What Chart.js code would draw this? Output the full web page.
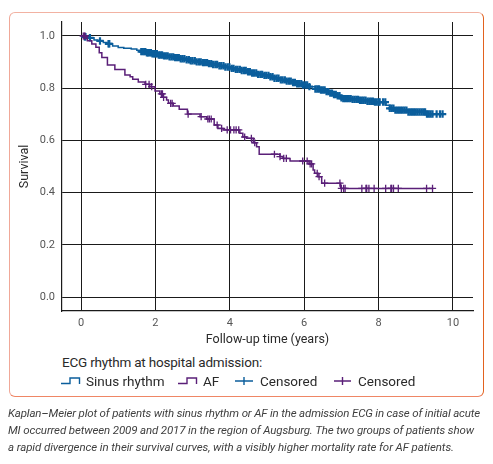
<!DOCTYPE html>
<html>
<head>
<meta charset="utf-8">
<script src="https://cdn.jsdelivr.net/npm/chart.js@4.4.1/dist/chart.umd.min.js"></script>
<style>
  html, body { margin:0; padding:0; background:#fff; }
  body { width:493px; height:464px; position:relative; overflow:hidden; font-family: Roboto, "Open Sans", sans-serif; }
  #box { position:absolute; left:9px; top:12px; width:475px; height:385px; box-sizing:border-box;
         border:1.5px solid; border-color:#f2b2a2 #e2621f #ef8665 #f0a898; border-radius:6px; }
  #wrap { position:absolute; left:0; top:0; width:493px; height:352px; }
  .lt { position:absolute; font-size:13.5px; color:#2a2a2a; white-space:nowrap; line-height:16px; }
  .cap { position:absolute; left:8px; font-size:11.5px; font-style:italic; color:#3f3f3f; white-space:nowrap; line-height:14px; }
  svg.sym { position:absolute; overflow:visible; }
</style>
</head>
<body>
<div id="box"></div>
<div id="wrap"><canvas id="c" width="493" height="352"></canvas></div>

<div class="lt" data-w="200" style="left:62px; top:354px;">ECG rhythm at hospital admission:</div>
<svg class="sym" style="left:0;top:0" width="493" height="464">
  <path d="M61,383.5 H70 V378 H79.5 V384" fill="none" stroke="#0b5e9c" stroke-width="1.4"/>
  <path d="M178,383.5 H187 V378 H196.5 V384" fill="none" stroke="#5a1f78" stroke-width="1.4"/>
  <path d="M235,381 H253 M244,377 V385" fill="none" stroke="#0b5e9c" stroke-width="1.4"/>
  <path d="M334,381 H351 M342.5,377 V385" fill="none" stroke="#5a1f78" stroke-width="1.4"/>
</svg>
<div class="lt" style="left:86px; top:373px;">Sinus rhythm</div>
<div class="lt" style="left:203px; top:373px;">AF</div>
<div class="lt" style="left:260px; top:373px;">Censored</div>
<div class="lt" style="left:358px; top:373px;">Censored</div>

<div class="cap" data-w="472" style="top:406px;">Kaplan–Meier plot of patients with sinus rhythm or AF in the admission ECG in case of initial acute</div>
<div class="cap" data-w="466" style="top:423px;">MI occurred between 2009 and 2017 in the region of Augsburg. The two groups of patients show</div>
<div class="cap" data-w="446" style="top:440px;">a rapid divergence in their survival curves, with a visibly higher mortality rate for AF patients.</div>

<script>
// ---- Data ----
const xTicks = [0, 2, 4, 6, 8, 10];
const yTicks = [0.0, 0.2, 0.4, 0.6, 0.8, 1.0];

const sinusTimes = [0,0.08,0.2,0.35,0.45,0.6,0.7,0.85,1.0,1.15,1.35,1.5,1.6,1.75,1.9,2.05,2.2,2.35,2.5,2.65,2.8,2.95,3.1,3.25,3.4,3.55,3.7,3.85,4.0,4.15,4.3,4.45,4.6,4.75,4.9,5.05,5.2,5.35,5.5,5.65,5.8,5.95,6.1,6.3,6.45,6.6,6.7,6.8,6.9,6.98,7.05,7.3,7.5,7.7,7.9,8.2,8.3,8.42,8.8,9.28,9.75];
const sinusSurv  = [1.0,0.997,0.993,0.985,0.981,0.975,0.97,0.962,0.956,0.953,0.95,0.945,0.94,0.936,0.932,0.927,0.924,0.92,0.917,0.913,0.909,0.905,0.901,0.898,0.894,0.891,0.886,0.881,0.876,0.872,0.868,0.863,0.858,0.853,0.849,0.844,0.838,0.832,0.827,0.822,0.817,0.812,0.806,0.797,0.793,0.787,0.781,0.776,0.771,0.763,0.76,0.757,0.754,0.75,0.747,0.735,0.723,0.716,0.709,0.701,0.701];

const afTimes = [0,0.15,0.17,0.29,0.4,0.49,0.56,0.71,0.91,1.18,1.32,1.39,1.54,1.72,1.85,1.99,2.12,2.2,2.3,2.35,2.48,2.64,2.86,3.2,3.38,3.58,3.68,3.82,4.27,4.35,4.45,4.63,4.72,4.79,5.35,5.43,5.62,6.13,6.24,6.28,6.37,6.47,6.98,9.47];
const afSurv  = [1.0,0.991,0.982,0.969,0.957,0.936,0.918,0.889,0.872,0.851,0.844,0.834,0.824,0.815,0.806,0.789,0.778,0.765,0.755,0.742,0.732,0.719,0.701,0.691,0.682,0.659,0.646,0.64,0.627,0.613,0.608,0.591,0.576,0.547,0.538,0.531,0.521,0.51,0.487,0.474,0.461,0.436,0.416,0.416];

const sinusCensorTimes = [0.1,0.12,0.24,0.51,0.74,0.76,
  1.62,1.66,1.7,1.73,1.77,1.8,1.84,1.88,1.92,1.96,2.0,2.04,2.09,2.13,2.18,2.23,2.28,2.33,2.38,2.43,2.48,2.53,2.58,2.63,2.68,2.73,2.78,2.84,2.9,2.95,
  3.0,3.06,3.11,3.17,3.22,3.28,3.33,3.39,3.44,3.5,3.55,3.61,3.66,3.72,3.77,3.83,3.88,3.94,3.99,4.05,4.1,4.16,4.21,4.27,4.32,4.38,4.43,4.49,4.54,4.6,4.65,4.71,4.76,4.82,4.87,4.93,4.98,
  5.04,5.09,5.15,5.2,5.26,5.31,5.37,5.42,5.48,5.53,5.59,5.64,5.7,5.75,5.81,5.86,5.92,5.97,6.03,6.08,6.14,6.3,6.35,6.4,6.45,6.5,6.55,6.6,6.65,6.7,6.75,6.8,6.85,6.9,6.95,
  7.0,7.05,7.1,7.15,7.2,7.25,7.3,7.35,7.4,7.45,7.5,7.55,7.6,7.65,7.7,7.75,7.8,7.85,7.9,7.95,8.0,8.03,8.12,8.18,8.3,8.35,8.4,8.45,8.5,8.55,8.6,8.65,8.7,8.75,8.8,8.85,8.9,8.95,
  9.0,9.05,9.1,9.15,9.2,9.25,9.3,9.35,9.4,9.45,9.56,9.65,9.72];

const afCensorTimes = [0.06,0.09,0.11,1.74,1.83,1.9,2.16,2.19,2.22,2.41,2.45,2.88,3.23,3.41,3.45,3.5,3.66,3.78,3.93,4.02,4.11,4.17,4.24,4.4,4.58,4.67,
  5.2,5.35,5.45,5.52,5.96,6.08,6.16,6.2,6.35,6.4,6.55,6.96,7.0,7.06,7.1,7.55,7.66,7.68,7.74,7.88,8.19,8.33,8.35,8.4,8.53,9.29,9.45];

const BLUE = '#0b5e9c';
const PURPLE = '#5a1f78';

// survival value of a step curve at time t (last step at or before t)
function stepAt(times, surv, t) {
  let v = surv[0];
  for (let i = 0; i < times.length; i++) { if (times[i] <= t) v = surv[i]; else break; }
  return v;
}
const toPts = (ts, ss) => ts.map((t, i) => ({x: t, y: ss[i]}));
const censorPts = (cts, ts, ss) => cts.map(t => ({x: t, y: stepAt(ts, ss, t)}));

const tickFont = {family: 'Roboto, sans-serif', size: 11};

new Chart(document.getElementById('c'), {
  type: 'scatter',
  data: {
    datasets: [
      { label: 'Sinus rhythm', type: 'line', data: toPts(sinusTimes, sinusSurv), stepped: true,
        borderColor: BLUE, borderWidth: 1.5, pointRadius: 0, fill: false, order: 4 },
      { label: 'Censored', data: censorPts(sinusCensorTimes, sinusTimes, sinusSurv),
        pointStyle: 'cross', pointRadius: 3.7, borderColor: BLUE, backgroundColor: BLUE, pointBorderWidth: 2.2, order: 3 },
      { label: 'AF', type: 'line', data: toPts(afTimes, afSurv), stepped: true,
        borderColor: PURPLE, borderWidth: 1.5, pointRadius: 0, fill: false, order: 2 },
      { label: 'Censored', data: censorPts(afCensorTimes, afTimes, afSurv),
        pointStyle: 'cross', pointRadius: 3.6, borderColor: PURPLE, backgroundColor: PURPLE, pointBorderWidth: 1.3, order: 1 }
    ]
  },
  options: {
    responsive: false,
    animation: false,
    devicePixelRatio: 1,
    layout: { padding: { left: 0, right: 20, top: 22, bottom: 0 } },
    plugins: { legend: { display: false }, tooltip: { enabled: false } },
    scales: {
      x: {
        type: 'linear', min: -0.511, max: 10.538,
        afterBuildTicks: (ax) => { ax.ticks = xTicks.map(v => ({value: v})); },
        afterFit: (ax) => { ax.height = 41; },
        grid: { color: '#1a1a1a', lineWidth: 1, drawTicks: false },
        border: { display: true, color: '#1a1a1a', width: 1.2 },
        ticks: { color: '#555', font: tickFont, padding: 6, callback: v => String(v), maxRotation: 0 },
        title: { display: true, text: 'Follow-up time (years)', color: '#2a2a2a',
                 font: {family: 'Roboto, sans-serif', size: 12.5}, padding: {top: 0, bottom: 5} }
      },
      y: {
        type: 'linear', min: -0.0536, max: 1.0536,
        afterBuildTicks: (ax) => { ax.ticks = yTicks.map(v => ({value: v})); },
        afterFit: (ax) => { ax.width = 62; },
        grid: { color: '#1a1a1a', lineWidth: 1, drawTicks: false },
        border: { display: true, color: '#1a1a1a', width: 1.2 },
        ticks: { color: '#555', font: tickFont, padding: 7, callback: v => v.toFixed(1) },
        title: { display: true, text: 'Survival', color: '#2a2a2a',
                 font: {family: 'Roboto, sans-serif', size: 12.5}, padding: {top: 17, bottom: 0} }
      }
    }
  }
});

// fit text lines to the measured widths of the reference
document.querySelectorAll('[data-w]').forEach(el => {
  const target = +el.dataset.w;
  const w = el.getBoundingClientRect().width;
  const n = el.textContent.length;
  el.style.letterSpacing = ((target - w) / n).toFixed(3) + 'px';
});
</script>
</body>
</html>
